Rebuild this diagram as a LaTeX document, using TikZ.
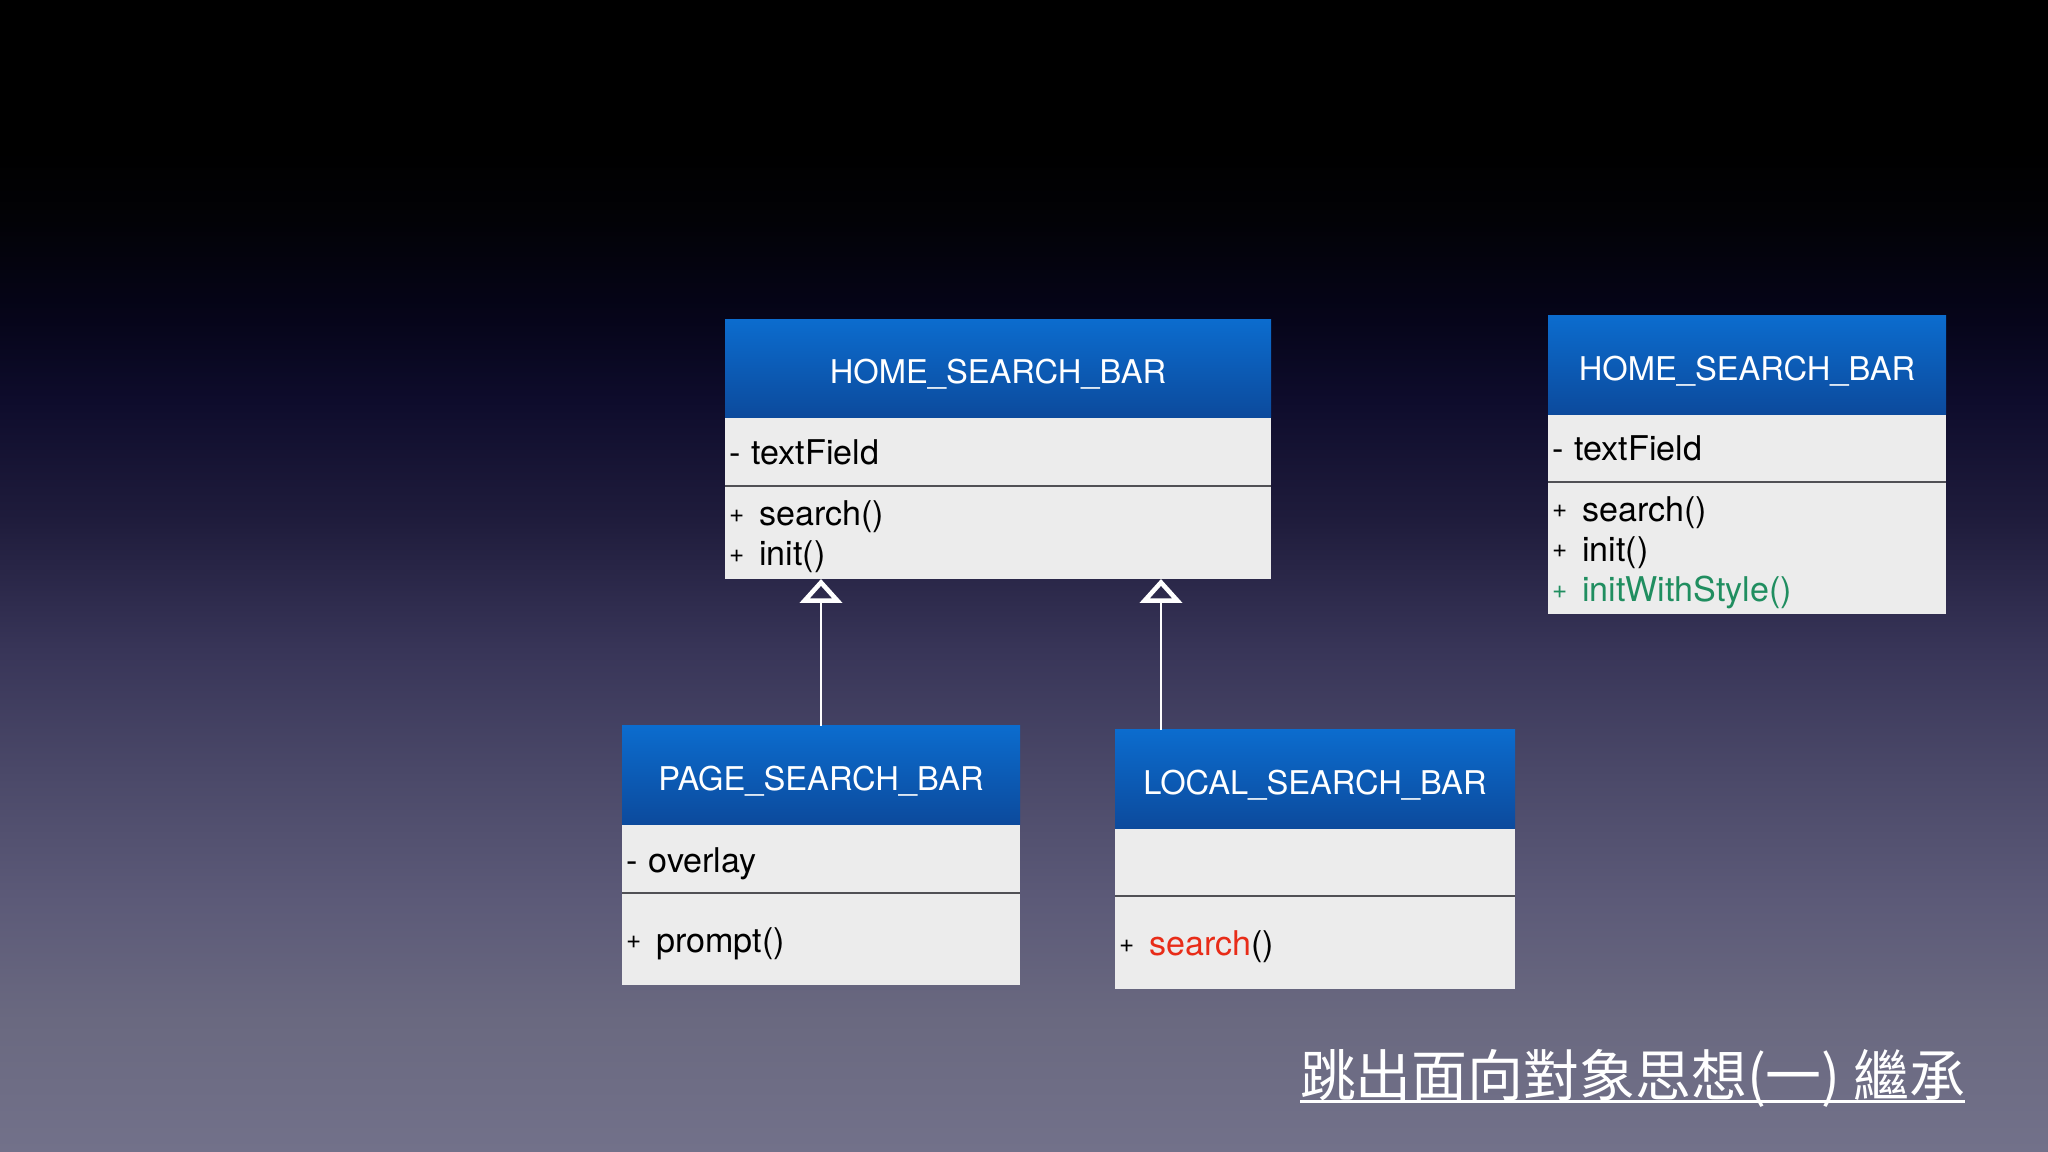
\documentclass[tikz,border=0pt]{standalone}
\usepackage{fontspec}
\setmainfont{TeX Gyre Heros}
\newfontfamily\cjkfont{Noto Sans CJK TC}
\usepackage{tikz}
\usetikzlibrary{arrows.meta,positioning,calc}
\definecolor{hdtop}{RGB}{12,108,206}
\definecolor{hdbot}{RGB}{12,74,156}
\definecolor{boxgray}{RGB}{236,236,236}
\definecolor{divgray}{RGB}{80,80,85}
\definecolor{addgreen}{RGB}{32,142,96}
\definecolor{redsearch}{RGB}{232,44,24}
\definecolor{bgA}{RGB}{114,113,138}
\definecolor{bgB}{RGB}{106,105,128}
\definecolor{bgC}{RGB}{92,90,120}
\definecolor{bgD}{RGB}{74,72,104}
\definecolor{bgE}{RGB}{56,53,88}
\definecolor{bgF}{RGB}{31,28,60}
\definecolor{bgG}{RGB}{14,12,44}
\definecolor{bgH}{RGB}{6,5,26}
\definecolor{bgI}{RGB}{2,2,6}
\pgfdeclareverticalshading{slidebg}{100bp}{color(0bp)=(bgA); color(25bp)=(bgA); color(30.7bp)=(bgB); color(35.9bp)=(bgC); color(41.6bp)=(bgD); color(46.8bp)=(bgE); color(52.4bp)=(bgF); color(57.6bp)=(bgG); color(61.1bp)=(bgH); color(65.5bp)=(bgI); color(68.5bp)=(black); color(100bp)=(black)}
\newcommand{\headfont}{\fontsize{9.3pt}{11pt}\selectfont}
\newcommand{\bodyfont}{\fontsize{9.7pt}{11.4pt}\selectfont}
\newcommand{\plusmark}{\raisebox{0.9pt}{\fontsize{7.4pt}{7.4pt}\selectfont+}\hspace{0.15cm}}
\tikzset{
  basebox/.style={rectangle,inner sep=0pt,outer sep=0pt},
  clshead/.style={basebox,top color=hdtop,bottom color=hdbot,text=white,minimum width=#1,minimum height=0.98cm,
    text height=8.3pt,text depth=0pt,font=\headfont},
  clsbody/.style={basebox,fill=boxgray,text=black,align=left,inner xsep=0.04cm,text width=#1,font=\bodyfont},
  clsops/.style={clsbody=#1,text height=9.6pt},
  divline/.style={draw=divgray,line width=0.8pt},
  inhrarr/.style={draw=white,line width=0.6pt,-{Triangle[open,length=0.24cm,width=0.42cm,line width=1.3pt]}},
  titlenode/.style={basebox,text=white,font=\cjkfont\fontsize{15.9pt}{18pt}\selectfont},
  ulline/.style={draw=white,line width=0.75pt}
}

\begin{document}
\begin{tikzpicture}
  %% Background
  \shade[shading=slidebg] (0,0) rectangle (20.48,11.52);

  %% Parent class
  \node[clshead=5.46cm] (hsbhead) at (9.98,7.83) {HOME\_SEARCH\_BAR};
  \node[clsbody=5.38cm,minimum height=0.68cm,below=0cm of hsbhead] (hsbattr) {- textField};
  \node[clsops=5.38cm,minimum height=0.93cm,below=0cm of hsbattr] (hsbops)
      {\plusmark search()\\ \plusmark init()};

  %% Parent class, with new init
  \node[clshead=3.98cm,minimum height=0.99cm] (hsbbhead) at (17.47,7.865) {HOME\_SEARCH\_BAR};
  \node[clsbody=3.90cm,minimum height=0.67cm,below=0cm of hsbbhead] (hsbbattr) {- textField};
  \node[clsops=3.90cm,minimum height=1.32cm,below=0cm of hsbbattr] (hsbbops)
      {\plusmark search()\\ \plusmark init()\\ {\color{addgreen}\plusmark initWithStyle()}};

  %% Subclasses
  \node[clshead=3.98cm,minimum height=0.99cm] (psbhead) at (8.21,3.765) {PAGE\_SEARCH\_BAR};
  \node[clsops=3.90cm,minimum height=0.68cm,below=0cm of psbhead] (psbattr) {- overlay};
  \node[clsops=3.90cm,minimum height=0.92cm,below=0cm of psbattr] (psbops) {\plusmark prompt()};

  \node[clshead=4.00cm,minimum height=0.99cm] (lsbhead) at (13.15,3.725) {LOCAL\_SEARCH\_BAR};
  \node[clsbody=3.92cm,minimum height=0.67cm,below=0cm of lsbhead] (lsbattr) {};
  \node[clsops=3.92cm,minimum height=0.93cm,below=0cm of lsbattr] (lsbops)
      {\plusmark {\color{redsearch}search}()};

  %% Dividers
  \draw[divline] (hsbattr.south west) -- (hsbattr.south east);
  \draw[divline] (hsbbattr.south west) -- (hsbbattr.south east);
  \draw[divline] (psbattr.south west) -- (psbattr.south east);
  \draw[divline] (lsbattr.south west) -- (lsbattr.south east);

  %% Inheritance
  \coordinate (lsbtop) at ($(lsbhead.north west)+(0.46,0)$);
  \draw[inhrarr] (psbhead.north) -- (psbhead.north |- hsbops.south);
  \draw[inhrarr] (lsbtop) -- (lsbtop |- hsbops.south);

  %% Title
  \node[titlenode,anchor=base west] (title) at (13.0,0.555) {跳出面向對象思想(一) 繼承};
  \draw[ulline] ($(title.south west)+(0,0.06)$) -- ($(title.south east)+(0,0.06)$);
\end{tikzpicture}
\end{document}
